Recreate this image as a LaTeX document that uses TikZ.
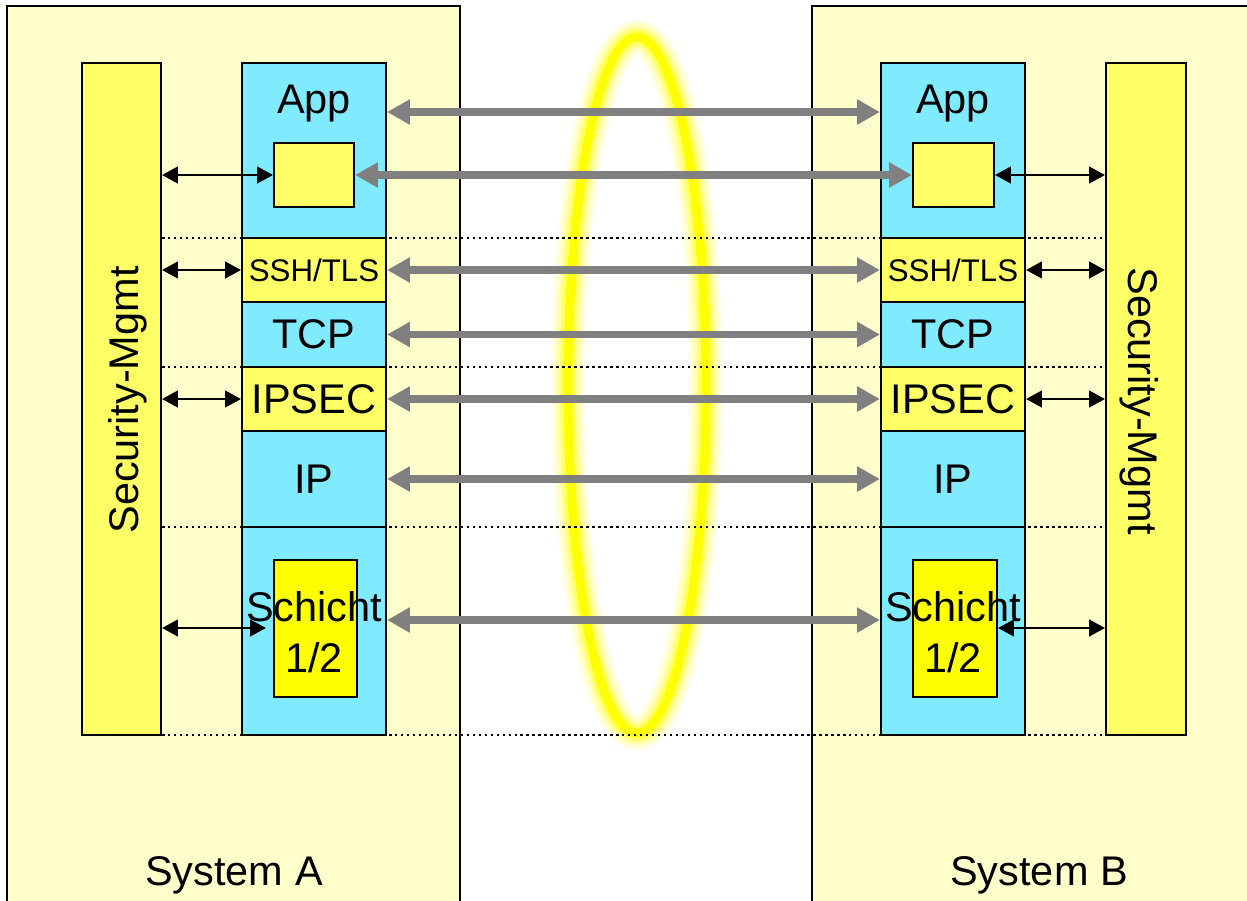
\documentclass[tikz,border=0pt]{standalone}
\usepackage{fontspec}
\setmainfont{Liberation Sans}
\usetikzlibrary{fit,arrows.meta}
\definecolor{sysbg}{HTML}{FFFFCC}
\definecolor{cyanL}{HTML}{80EAFF}
\definecolor{yelL}{HTML}{FFFF66}
\definecolor{yelS}{HTML}{FFFF00}
\definecolor{grayA}{HTML}{808080}
\begin{document}
\begin{tikzpicture}[x=0.02cm,y=-0.02cm,
  box/.style={draw=black, line width=1.2pt, inner sep=0pt},
  sysbox/.style={box, fill=sysbg},
  stk/.style={box, fill=cyanL},
  sec/.style={box, fill=yelL},
  inner/.style={box, fill=yelS},
  lbl/.style={font=\fontsize{23.6}{28.9}\selectfont, inner sep=0pt, align=center},
  smalllbl/.style={font=\fontsize{17.8}{21}\selectfont, inner sep=0pt},
  garrow/.style={draw=grayA, line width=4pt, {Triangle[length=13pt,width=13.6pt]}-{Triangle[length=13pt,width=13.6pt]}},
  barrow/.style={draw=black, line width=1.2pt, {Triangle[length=9pt,width=9.5pt]}-{Triangle[length=9pt,width=9.5pt]}},
  dotline/.style={draw=black, line width=1.5pt, dash pattern=on 1.4pt off 2pt},
  glow/.style={draw=yelS, line width=#1}
]
\useasboundingbox (0,0) rectangle (1247,900);
\clip (0,0) rectangle (1247,900);
\fill[white] (0,0) rectangle (1247,900);

% system boxes
\node[sysbox, fit={(7,6)(460,920)}] (sysA) {};
\node[sysbox, fit={(812,6)(1260,920)}] (sysB) {};
\node[lbl, anchor=base] (sysAt) at (234,885) {System A};
\node[lbl, anchor=base] (sysBt) at (1039,885) {System B};

% glowing ellipse
\draw[glow=19pt, yelS!10] (637,385) ellipse [x radius=69, y radius=348];
\draw[glow=16pt, yelS!22] (637,385) ellipse [x radius=69, y radius=348];
\draw[glow=12pt, yelS!38] (637,385) ellipse [x radius=69, y radius=348];
\draw[glow=9pt, yelS!60] (637,385) ellipse [x radius=69, y radius=348];
\draw[glow=5pt, yelS] (637,385) ellipse [x radius=69, y radius=348];

% security management bars
\node[sec, fit={(82,63)(161,735)}] (mgmtA) {};
\node[sec, fit={(1106,63)(1186,735)}] (mgmtB) {};

% dotted separators
\coordinate (d1) at (0,238);
\coordinate (d2) at (0,367);
\coordinate (d3) at (0,527);
\coordinate (d4) at (0,735);
\foreach \d in {d1,d2,d3,d4}
  \draw[dotline] (mgmtA.east |- \d) -- (mgmtB.west |- \d);

\node[lbl, rotate=90, anchor=base] (mgmtAt) at (138,400) {Security-Mgmt};
\node[lbl, rotate=-90, anchor=base] (mgmtBt) at (1128,401) {Security-Mgmt};

% stack A
\node[stk, fit={(242,63)(386,238)}] (appA) {};
\node[sec, fit={(242,238)(386,302)}, label={[smalllbl]center:SSH/TLS}] (sshA) {};
\node[stk, fit={(242,302)(386,367)}, label={[lbl]center:TCP}] (tcpA) {};
\node[sec, fit={(242,367)(386,431)}, label={[lbl]center:IPSEC}] (ipsecA) {};
\node[stk, fit={(242,431)(386,527)}, label={[lbl]center:IP}] (ipA) {};
\node[stk, fit={(242,527)(386,735)}] (l12A) {};
\node[sec, fit={(274,143)(354,207)}] (smallA) {};
\node[inner, fit={(274,560)(357,697)}] (schA) {};
\node[lbl, anchor=base] (appAt) at (314,113) {App};
\node[lbl] (schAt) at (314,632) {Schicht\\1/2};

% stack B
\node[stk, fit={(881,63)(1025,238)}] (appB) {};
\node[sec, fit={(881,238)(1025,302)}, label={[smalllbl]center:SSH/TLS}] (sshB) {};
\node[stk, fit={(881,302)(1025,367)}, label={[lbl]center:TCP}] (tcpB) {};
\node[sec, fit={(881,367)(1025,431)}, label={[lbl]center:IPSEC}] (ipsecB) {};
\node[stk, fit={(881,431)(1025,527)}, label={[lbl]center:IP}] (ipB) {};
\node[stk, fit={(881,527)(1025,735)}] (l12B) {};
\node[sec, fit={(913,143)(994,207)}] (smallB) {};
\node[inner, fit={(913,560)(997,697)}] (schB) {};
\node[lbl, anchor=base] (appBt) at (953,113) {App};
\node[lbl] (schBt) at (953,632) {Schicht\\1/2};

% gray peer arrows
\coordinate (yApp) at (0,112);
\coordinate (ySch) at (0,620);
\coordinate (ySchB) at (0,628);
\draw[garrow] (appA.east |- yApp) -- (appB.west |- yApp);
\draw[garrow] (smallA.east) -- (smallB.west);
\draw[garrow] (sshA.east) -- (sshB.west);
\draw[garrow] (tcpA.east) -- (tcpB.west);
\draw[garrow] (ipsecA.east) -- (ipsecB.west);
\draw[garrow] (ipA.east) -- (ipB.west);
\draw[garrow] (l12A.east |- ySch) -- (l12B.west |- ySch);

% black management arrows
\draw[barrow] (mgmtA.east |- smallA.west) -- (smallA.west);
\draw[barrow] (mgmtA.east |- sshA.west) -- (sshA.west);
\draw[barrow] (mgmtA.east |- ipsecA.west) -- (ipsecA.west);
\draw[barrow, shorten >=4pt] (mgmtA.east |- ySchB) -- (schA.west |- ySchB);
\draw[barrow] (smallB.east) -- (mgmtB.west |- smallB.east);
\draw[barrow] (sshB.east) -- (mgmtB.west |- sshB.east);
\draw[barrow] (ipsecB.east) -- (mgmtB.west |- ipsecB.east);
\draw[barrow] (schB.east |- ySchB) -- (mgmtB.west |- ySchB);
\end{tikzpicture}
\end{document}
